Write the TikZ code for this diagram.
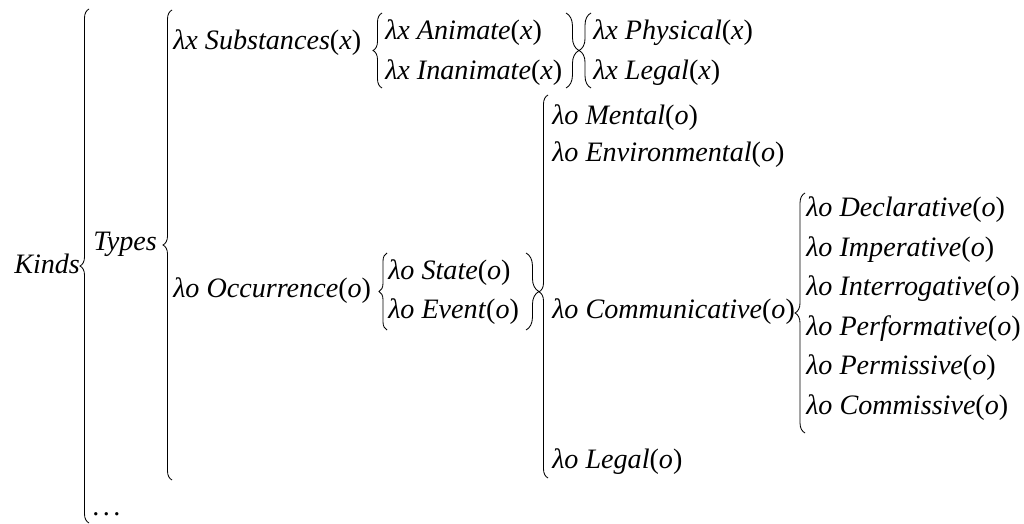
\documentclass[tikz,border=0pt]{standalone}
\usepackage{fontspec}
\setmainfont{Liberation Serif}
\usetikzlibrary{decorations.pathreplacing}

\newcommand{\lterm}[2]{\textit{λ#1 #2}(\textit{#1})}

\begin{document}
\begin{tikzpicture}[
  x=0.025cm, y=-0.025cm,
  lbl/.style={anchor=west, inner sep=0pt, font=\fontsize{20}{24}\selectfont},
  brc/.style={decorate, decoration={brace, amplitude=#1}, line width=0.6pt},
  brc/.default=6.4pt,
  bigbrc/.style={decorate, decoration={brace, amplitude=6.4pt, aspect=0.486}, line width=0.6pt}
]
  \useasboundingbox (0,0) rectangle (1024,524);

  % labels
  \node[lbl] (kinds) at (14,264) {\textit{Kinds}};
  \node[lbl] (types) at (93,244) {\textit{Types}};
  \node[lbl] (dots) at (92,514) {.\hspace{2.5pt}.\hspace{2.5pt}.};
  \node[lbl] (subst) at (173,43) {\lterm{x}{Substances}};
  \node[lbl] (occ) at (173,291) {\lterm{o}{Occurrence}};
  \node[lbl] (anim) at (385,33) {\lterm{x}{Animate}};
  \node[lbl] (inanim) at (385,73) {\lterm{x}{Inanimate}};
  \node[lbl] (phys) at (593,33) {\lterm{x}{Physical}};
  \node[lbl] (legx) at (593,73) {\lterm{x}{Legal}};
  \node[lbl] (state) at (388,273) {\lterm{o}{State}};
  \node[lbl] (event) at (388,312) {\lterm{o}{Event}};
  \node[lbl] (ment) at (552,118) {\lterm{o}{Mental}};
  \node[lbl] (env) at (552,155) {\lterm{o}{Environmental}};
  \node[lbl] (comm) at (552,312) {\lterm{o}{Communicative}};
  \node[lbl] (lego) at (552,462) {\lterm{o}{Legal}};
  \foreach \w [count=\i from 0] in {Declarative,Imperative,Interrogative,Performative,Permissive,Commissive}
    \node[lbl] (sp\i) at (806,{210+39.5*\i}) {\lterm{o}{\w}};

  % brace ends
  \coordinate (kB) at (89,523);  \coordinate (kT) at (89,9);
  \coordinate (tB) at (172,480); \coordinate (tT) at (172,10);
  \coordinate (sB) at (382,88);  \coordinate (sT) at (382,13);
  \coordinate (aT) at (566,13);  \coordinate (aB) at (566,88);
  \coordinate (pB) at (591,88);  \coordinate (pT) at (591,13);
  \coordinate (oB) at (387,330); \coordinate (oT) at (387,253);
  \coordinate (eT) at (526,253); \coordinate (eB) at (526,330);
  \coordinate (mB) at (548,478); \coordinate (mT) at (548,95);
  \coordinate (cB) at (805,433); \coordinate (cT) at (805,193);

  % braces
  \draw[brc] (kB) -- (kT);
  \draw[brc] (tB) -- (tT);
  \draw[brc] (sB) -- (sT);
  \draw[brc=9.2pt] (aT) -- (aB);
  \draw[brc=8.5pt] (pB) -- (pT);
  \draw[brc=5.7pt] (oB) -- (oT);
  \draw[brc=9.2pt] (eT) -- (eB);
  \draw[bigbrc] (mB) -- (mT);
  \draw[brc=7.1pt] (cB) -- (cT);
\end{tikzpicture}
\end{document}
